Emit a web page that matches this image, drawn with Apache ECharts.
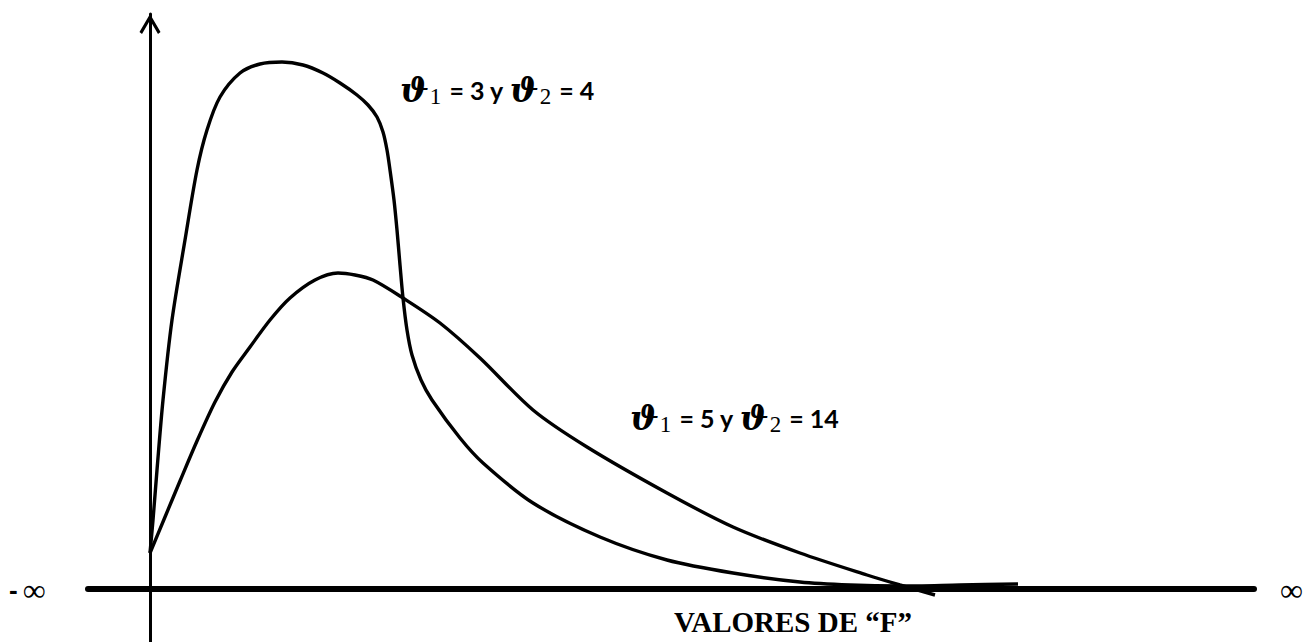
<!DOCTYPE html>
<html>
<head>
<meta charset="utf-8">
<script src="https://cdn.jsdelivr.net/npm/echarts@6/dist/echarts.min.js"></script>
<style>
  html, body { margin: 0; padding: 0; background: #fff; }
  #chart { width: 1316px; height: 642px; }
</style>
</head>
<body>
<div id="chart"></div>
<script>
// curva 1: v1 = 3, v2 = 4
const fValues1 = [0, 0.03, 0.07, 0.13, 0.22, 0.35, 0.47, 0.57, 0.70, 0.90, 1.10, 1.32, 1.53, 1.73, 1.90, 2.07, 2.18, 2.27, 2.33, 2.37, 2.40, 2.44, 2.47, 2.50, 2.53, 2.57, 2.62, 2.71, 2.82, 3.10, 3.33, 3.83, 4.50, 5.17, 5.83, 6.50, 7.00, 7.50, 8.10, 8.68];
const density1 = [0.072, 0.138, 0.238, 0.378, 0.538, 0.698, 0.838, 0.918, 0.984, 1.032, 1.050, 1.054, 1.048, 1.032, 1.012, 0.988, 0.968, 0.944, 0.914, 0.878, 0.838, 0.778, 0.718, 0.648, 0.582, 0.518, 0.468, 0.418, 0.378, 0.302, 0.252, 0.172, 0.104, 0.058, 0.032, 0.014, 0.008, 0.006, 0.008, 0.010];

// curva 2: v1 = 5, v2 = 14
const fValues2 = [0, 0.15, 0.30, 0.47, 0.65, 0.82, 1.00, 1.20, 1.40, 1.65, 1.88, 2.05, 2.23, 2.53, 2.90, 3.30, 3.83, 4.37, 5.17, 5.83, 6.50, 7.17, 7.50, 7.85];
const density2 = [0.072, 0.144, 0.216, 0.296, 0.374, 0.434, 0.484, 0.538, 0.582, 0.618, 0.632, 0.628, 0.618, 0.582, 0.532, 0.462, 0.358, 0.284, 0.192, 0.124, 0.072, 0.028, 0.008, -0.012];

const xName = 'VALORES DE “F”';
const rightEnd = '∞';

const chart = echarts.init(document.getElementById('chart'), null, { renderer: 'svg' });

function zip(xs, ys) {
  return xs.map((x, i) => [x, ys[i]]);
}

function paramLabel(a, b) {
  return '{t|ϑ}{s|1}{n| = ' + a + ' y }{t|ϑ}{s|2}{n| = ' + b + '}';
}

const richParam = {
  t: { fontFamily: 'DejaVu Serif', fontStyle: 'italic', fontWeight: 'bold', fontSize: 34, fill: '#000', lineHeight: 40 },
  s: { fontFamily: 'Liberation Serif', fontSize: 23, fill: '#000', lineHeight: 40, padding: [14, 2, 0, 1] },
  n: { fontFamily: 'Lato', fontWeight: 'bold', fontSize: 25, fill: '#000', lineHeight: 40 }
};

const option = {
  animation: false,
  backgroundColor: '#fff',
  grid: { left: 88, right: 62, top: 14, bottom: 0 },
  xAxis: {
    type: 'value',
    min: -0.62,
    max: 11.04,
    axisLine: { show: true, onZero: true, lineStyle: { color: '#000', width: 6 } },
    axisTick: { show: false },
    axisLabel: { show: false },
    splitLine: { show: false }
  },
  yAxis: {
    type: 'value',
    min: -0.106,
    max: 1.15,
    axisLine: {
      show: true,
      onZero: true,
      symbol: ['none', 'path://M10,0 L20,17 L17.6,19 L10,6 L2.4,19 L0,17 Z'],
      symbolSize: [22, 20],
      symbolOffset: [0, -10],
      lineStyle: { color: '#000', width: 3 }
    },
    axisTick: { show: false },
    axisLabel: { show: false },
    splitLine: { show: false }
  },
  series: [
    {
      name: 'v1=3, v2=4',
      type: 'line',
      data: zip(fValues1, density1),
      showSymbol: false,
      smooth: 0.3,
      clip: false,
      lineStyle: { color: '#000', width: 3.4 }
    },
    {
      name: 'v1=5, v2=14',
      type: 'line',
      data: zip(fValues2, density2),
      showSymbol: false,
      smooth: 0.3,
      clip: false,
      lineStyle: { color: '#000', width: 3.4 }
    }
  ],
  graphic: [
    {
      type: 'text', left: 400, top: 71,
      style: { text: paramLabel(3, 4), rich: richParam }
    },
    {
      type: 'text', left: 630, top: 399,
      style: { text: paramLabel(5, 14), rich: richParam }
    },
    {
      type: 'text', x: 912, y: 636,
      style: {
        text: xName, fill: '#000', align: 'right', verticalAlign: 'bottom',
        font: 'bold 29px "Liberation Serif"'
      }
    },
    {
      type: 'text', x: 9, y: 590,
      style: {
        text: '{h|-}{g| }{i|∞}', verticalAlign: 'middle',
        rich: {
          h: { fontFamily: 'Liberation Sans', fontWeight: 'bold', fontSize: 26, fill: '#000' },
          g: { fontSize: 18 },
          i: { fontFamily: 'Liberation Serif', fontSize: 32, fill: '#000' }
        }
      }
    },
    {
      type: 'text', x: 1280, y: 590,
      style: { text: rightEnd, fill: '#000', verticalAlign: 'middle', font: '32px "Liberation Serif"' }
    }
  ]
};

chart.setOption(option);
</script>
</body>
</html>
